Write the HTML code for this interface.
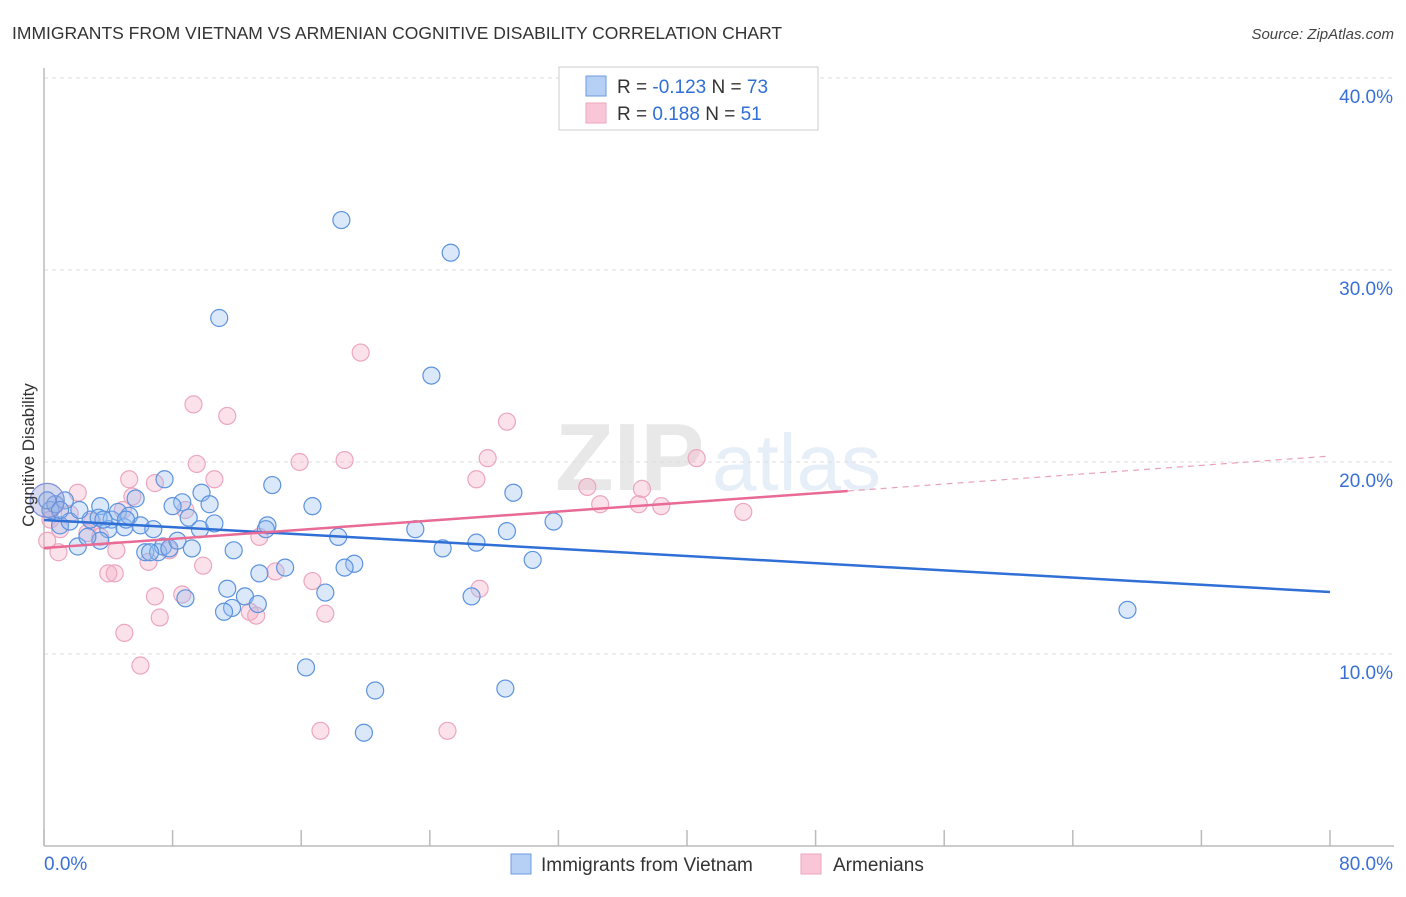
<!DOCTYPE html>
<html><head><meta charset="utf-8"><style>
body{margin:0;background:#fff;font-family:"Liberation Sans",sans-serif}
svg text{font-family:"Liberation Sans",sans-serif}
</style></head><body>
<svg id="chart" width="1406" height="892" viewBox="0 0 1406 892" xmlns="http://www.w3.org/2000/svg">
<text x="12" y="39" font-size="17.5" fill="#333">IMMIGRANTS FROM VIETNAM VS ARMENIAN COGNITIVE DISABILITY CORRELATION CHART</text>
<text x="1394" y="39" font-size="15" fill="#444" text-anchor="end" font-style="italic">Source: ZipAtlas.com</text>
<g opacity="0.13">
<text x="555" y="490" font-size="96" font-family="Liberation Serif" fill="#555" font-weight="bold">ZIP</text>
<text x="712" y="490" font-size="80" fill="#4a7fd0">atlas</text>
</g>
<g id="grid"></g>
<g id="axes"></g>
<g id="pts"></g>
<g id="trends"></g>
<text transform="translate(34,455) rotate(-90)" font-size="17" fill="#333" text-anchor="middle">Cognitive Disability</text>
<g>
<rect x="559" y="67" width="259" height="63" fill="#fff" stroke="#ccc"/>
<rect x="586" y="76" width="20" height="20" fill="#b5cff5" stroke="#6d9be0"/>
<rect x="586" y="103" width="20" height="20" fill="#f8c6d6" stroke="#eea6bf"/>
<text x="617" y="93" font-size="19" fill="#333">R = <tspan fill="#2f6fd6">-0.123</tspan>   N = <tspan fill="#2f6fd6">73</tspan></text>
<text x="617" y="120" font-size="19" fill="#333">R =   <tspan fill="#2f6fd6">0.188</tspan>   N =  <tspan fill="#2f6fd6">51</tspan></text>
</g>
<g>
<rect x="511" y="854" width="20" height="20" fill="#b5cff5" stroke="#6d9be0"/>
<text x="541" y="871" font-size="19" fill="#333">Immigrants from Vietnam</text>
<rect x="801" y="854" width="20" height="20" fill="#f8c6d6" stroke="#eea6bf"/>
<text x="833" y="871" font-size="19" fill="#333">Armenians</text>
</g>
</svg>
<script>
const yTicks=[10,20,30,40];
const yTickLabels=["10.0%","20.0%","30.0%","40.0%"];
const xTickCount=10;
const blueX=[18.5,25.3,10.9,24.1,7.5,9.8,14.2,5.7,8.6,10.3,8.0,16.7,29.2,31.7,23.1,28.8,26.9,24.8,30.4,19.3,18.7,15.0,13.4,11.4,17.5,12.5,8.8,26.6,13.3,11.7,11.2,67.4,16.3,20.6,28.7,19.9,0.4,0.7,1.3,1.0,1.6,2.1,2.9,3.5,3.4,4.2,4.6,5.0,5.3,6.0,4.0,3.5,6.8,6.3,7.1,7.4,7.8,8.3,9.2,9.0,9.7,10.6,11.8,13.9,13.8,18.3,2.2,3.7,5.1,6.6,0.2,2.7,1.0];
const blueY=[32.6,30.9,27.5,24.5,19.1,18.4,18.8,18.1,17.9,17.8,17.7,17.7,18.4,16.9,16.5,16.4,15.8,15.5,14.9,14.7,14.5,14.5,14.2,13.4,13.2,13.0,12.9,13.0,12.6,12.4,12.2,12.3,9.3,8.1,8.2,5.9,17.5,17.8,18.0,16.7,16.9,15.6,17.0,17.7,17.1,17.0,17.4,16.6,17.2,16.7,16.5,15.9,16.5,15.3,15.3,15.6,15.5,15.9,15.5,17.1,16.5,16.8,15.4,16.7,16.5,16.1,17.5,17.0,17.0,15.3,18.0,16.1,17.5];
const pinkX=[19.7,9.3,11.4,28.8,27.6,15.9,9.5,18.7,40.6,5.3,10.6,26.9,6.9,33.8,37.2,2.1,5.5,34.6,37.0,38.4,43.5,4.9,8.8,0.4,1.0,2.7,3.5,4.5,7.8,13.4,6.5,9.9,4.0,4.4,16.7,6.9,8.6,27.1,12.8,13.2,17.5,7.2,5.0,6.0,17.2,25.1,14.4,0.9,1.6,0.2,3.0];
const pinkY=[25.7,23.0,22.4,22.1,20.2,20.0,19.9,20.1,20.2,19.1,19.1,19.1,18.9,18.7,18.6,18.4,18.2,17.8,17.8,17.7,17.4,17.5,17.5,17.0,16.5,16.3,16.1,15.4,15.4,16.1,14.8,14.6,14.2,14.2,13.8,13.0,13.1,13.4,12.2,12.0,12.1,11.9,11.1,9.4,6.0,6.0,14.3,15.3,17.3,15.9,16.9];
const blueTrend=[[0,16.98],[80,13.23]];
const pinkTrendSolid=[[0,15.52],[50,18.49]];
const pinkTrendDash=[[50,18.49],[80,20.31]];
const X=v=>44+v*16.075, Y=v=>654-(v-10)*19.2;
const NS="http://www.w3.org/2000/svg";
function mk(p,t,a){const e=document.createElementNS(NS,t);for(const k in a)e.setAttribute(k,a[k]);p.appendChild(e);return e;}
const grid=document.getElementById('grid'),axes=document.getElementById('axes'),pts=document.getElementById('pts'),tr=document.getElementById('trends');
yTicks.forEach((v,i)=>{
 const l=mk(grid,'line',{x1:44,x2:1394,y1:Y(v),y2:Y(v),stroke:'#ddd','stroke-dasharray':'4,4'});
 
 
 const t=mk(axes,'text',{x:1393,y:Y(v)+25,'font-size':19,fill:'#3a70d6','text-anchor':'end'});
 t.textContent=yTickLabels[i];
 
 
});
mk(axes,'line',{x1:44,x2:44,y1:68,y2:846,stroke:'#bbb','stroke-width':1.5});
mk(axes,'line',{x1:44,x2:1394,y1:846,y2:846,stroke:'#bbb','stroke-width':1.5});
for(let i=0;i<=xTickCount;i++){const x=X(i*8);const t=mk(axes,'line',{x1:x,x2:x,y1:830,y2:846,stroke:'#bbb','stroke-width':1.5});
 
 }
const xl0=mk(axes,'text',{x:44,y:870,'font-size':19,fill:'#3a70d6'});xl0.textContent='0.0%';


const xl1=mk(axes,'text',{x:1393,y:870,'font-size':19,fill:'#3a70d6','text-anchor':'end'});xl1.textContent='80.0%';


pinkX.forEach((x,i)=>{const c=mk(pts,'circle',{cx:X(x),cy:Y(pinkY[i]),r:8.5,fill:'rgba(244,168,196,0.35)',stroke:'#eca6bf','stroke-width':1.2});
 
 });
blueX.forEach((x,i)=>{const c=mk(pts,'circle',{cx:X(x),cy:Y(blueY[i]),r:8.5,fill:'rgba(150,190,240,0.35)',stroke:'#5d93de','stroke-width':1.2});
 
 });
const big=mk(pts,'circle',{cx:X(blueX[70]),cy:Y(blueY[70]),r:17,fill:'rgba(140,150,210,0.35)',stroke:'#7d8fd6','stroke-width':1.2});


function line(d,a,name){const e=mk(tr,'line',Object.assign({x1:X(d[0][0]),y1:Y(d[0][1]),x2:X(d[1][0]),y2:Y(d[1][1])},a));
 
 }
line(blueTrend,{stroke:'#2f6fd6','stroke-width':2.5},'vietnam-trend-line');
line(pinkTrendSolid,{stroke:'#e86a95','stroke-width':2.5},'armenians-trend-line');
line(pinkTrendDash,{stroke:'#eaa0b8','stroke-width':1.2,'stroke-dasharray':'6,5'},'armenians-trend-extension');
</script>
</body></html>
